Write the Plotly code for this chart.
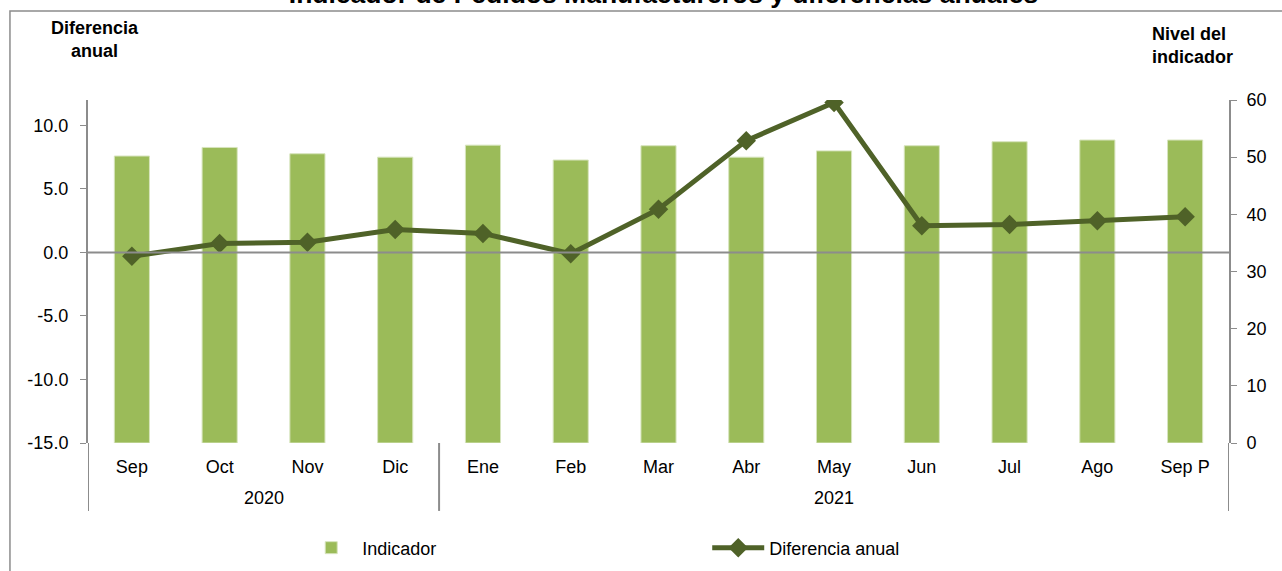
import plotly.graph_objects as go

# data
years = ["2020"] * 4 + ["2021"] * 9
months = ["Sep", "Oct", "Nov", "Dic", "Ene", "Feb", "Mar", "Abr", "May", "Jun", "Jul", "Ago", "Sep P"]
indicador = [50.2, 51.7, 50.6, 50.0, 52.1, 49.5, 52.0, 50.0, 51.1, 52.0, 52.7, 53.0, 53.0]
diferencia = [-0.3, 0.7, 0.8, 1.8, 1.5, -0.1, 3.4, 8.8, 11.8, 2.1, 2.2, 2.5, 2.8]
left_ticks = [-15, -10, -5, 0, 5, 10]
left_labels = ["%.1f" % v for v in left_ticks]
right_ticks = [0, 10, 20, 30, 40, 50, 60]

FONT = "Arial, Liberation Sans, sans-serif"
GRAY = "#8C8C8C"

fig = go.Figure()

fig.add_trace(go.Bar(
    x=months, y=indicador, name="Indicador",
    marker=dict(color="#9BBB59", line=dict(color="#D7E4BD", width=1)),
    width=0.4, yaxis="y",
))
fig.add_trace(go.Scatter(
    x=months, y=diferencia, name="Diferencia anual",
    mode="lines+markers",
    line=dict(color="#4F6228", width=5),
    marker=dict(symbol="diamond", size=15, color="#4F6228"),
    yaxis="y2",
))

# year groups under the month labels: dividers + centred year text
groups = []
for i, yr in enumerate(years):
    if not groups or groups[-1][0] != yr:
        groups.append([yr, i, i])
    else:
        groups[-1][2] = i

shapes = [
    # zero line of the left axis
    dict(type="line", xref="paper", x0=0, x1=1, yref="y2", y0=0, y1=0,
         line=dict(color=GRAY, width=2), layer="above"),
    # outer frame
    dict(type="rect", xref="paper", yref="paper", x0=-0.0684, x1=1.06, y0=-0.45, y1=1.2595,
         line=dict(color=GRAY, width=1.5), layer="below"),
]
annotations = [
    dict(text="<b>Diferencia<br>anual</b>", xref="paper", yref="paper", x=0.006, y=1.175,
         xanchor="center", yanchor="middle", showarrow=False, font=dict(size=18)),
    dict(text="<b>Nivel del<br>indicador</b>", xref="paper", yref="paper", x=0.9307, y=1.16,
         xanchor="left", yanchor="middle", align="left", showarrow=False, font=dict(size=18)),
]
for k, (yr, i0, i1) in enumerate(groups):
    annotations.append(dict(text=yr, xref="x", yref="paper", x=(i0 + i1) / 2, y=-0.1603,
                            xanchor="center", yanchor="middle", showarrow=False,
                            font=dict(size=18)))
    for xe in ([i0 - 0.5] if k == 0 else []) + [i1 + 0.5]:
        shapes.append(dict(type="line", xref="x", yref="paper", x0=xe, x1=xe, y0=0, y1=-0.198,
                           line=dict(color=GRAY, width=2)))

fig.update_layout(
    width=1282, height=571,
    margin=dict(l=88, r=53, t=100, b=128, autoexpand=False),
    paper_bgcolor="white", plot_bgcolor="white",
    font=dict(family=FONT, size=18, color="black"),
    title=dict(text="<b>Indicador de Pedidos Manufactureros y diferencias anuales</b>",
               x=0.5176, xanchor="center", y=0.995, yanchor="bottom",
               font=dict(size=26.5, family=FONT, color="black")),
    hovermode=False,
    xaxis=dict(type="category", range=[-0.5, 12.5], autorange=False,
               showline=False, ticks="", showgrid=False, automargin=False,
               ticklabelstandoff=11, tickfont=dict(size=18)),
    yaxis=dict(side="right", range=[0, 60], tickvals=right_ticks, showgrid=False, zeroline=False,
               showline=True, linecolor=GRAY, linewidth=2, automargin=False,
               ticks="outside", ticklen=6, tickcolor=GRAY, tickwidth=1,
               ticklabelstandoff=6),
    yaxis2=dict(overlaying="y", side="left", range=[-15, 12],
                tickvals=left_ticks, ticktext=left_labels,
                showgrid=False, zeroline=False, automargin=False,
                showline=True, linecolor=GRAY, linewidth=2,
                ticks="outside", ticklen=6, tickcolor=GRAY, tickwidth=1,
                ticklabelstandoff=8),
    legend=dict(orientation="h", x=0.186, xanchor="left", y=-0.306, yanchor="middle",
                itemwidth=52, entrywidth=340, font=dict(size=18)),
    shapes=shapes,
    annotations=annotations,
)

# page body has an 8px default margin; drop it so the chart sits at the window corner
fig.write_html("out.html", config={"displayModeBar": False},
               post_script="document.body.style.margin='0';")
